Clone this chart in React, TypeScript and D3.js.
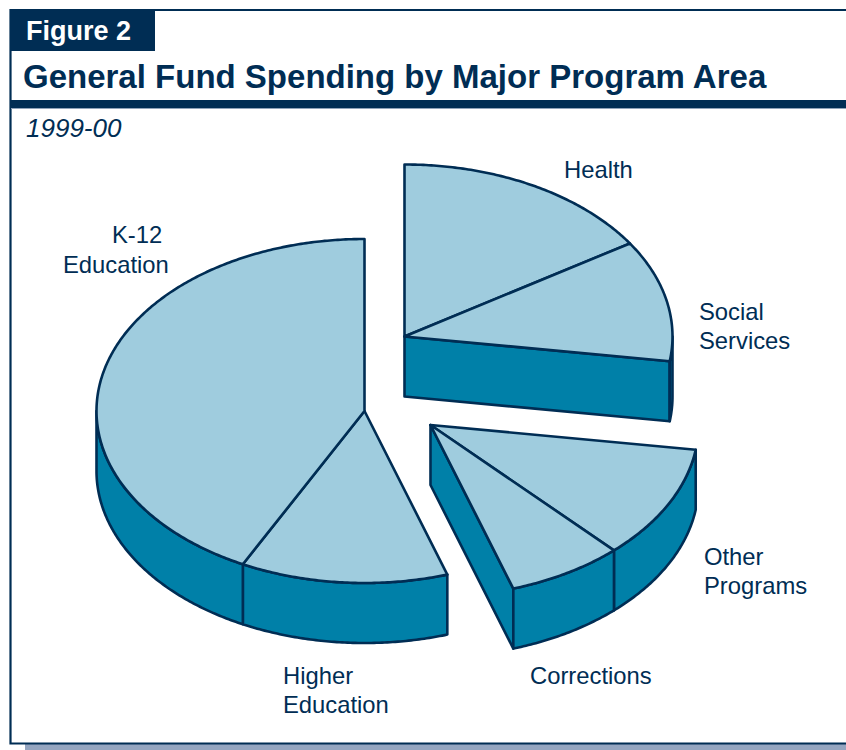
import React from "react";
import * as d3 from "d3";

const categories = ["Health", "Social Services", "Other Programs", "Corrections", "Higher Education", "K-12 Education"];
const shares = [15.9, 11.4, 10.7, 7.0, 12.5, 42.5];
const figureLabel = "Figure 2";
const titleText = "General Fund Spending by Major Program Area";
const subtitleText = "1999-00";

const NAVY = "#002D54";
const TOP = "#9FCCDE";
const SIDE = "#0080A8";
const RX = 268, RY = 172, DEPTH = 60;

// Each slice is pulled out with its neighbours: three separated groups
const centers = [[404.5, 336.5], [404.5, 336.5], [430.5, 425], [430.5, 425], [364.5, 411], [364.5, 411]];
// Walls of the cut faces that can be seen, by slice index and edge
const cutWalls: { index: number; edge: "start" | "end" }[] = [
  { index: 1, edge: "end" },
  { index: 3, edge: "end" },
];
const labels = [
  { lines: ["Health"], x: 564, y: 178 },
  { lines: ["Social", "Services"], x: 699, y: 320 },
  { lines: ["Other", "Programs"], x: 704, y: 565 },
  { lines: ["Corrections"], x: 530, y: 684 },
  { lines: ["Higher", "Education"], x: 283, y: 684 },
  { lines: ["K-12"], x: 112, y: 243 },
  { lines: ["Education"], x: 63, y: 273 },
];

const arcs = d3.pie<number>().sort(null).value((d) => d)(shares);
const ellipse = (a: number, c: number[], dy = 0): [number, number] => [
  c[0] + RX * Math.sin(a),
  c[1] - RY * Math.cos(a) + dy,
];
const line = d3.line();
const samples = (a0: number, a1: number) => {
  const n = Math.max(2, Math.ceil(Math.abs(a1 - a0) / 0.01));
  return d3.range(n + 1).map((i) => a0 + ((a1 - a0) * i) / n);
};

const topPath = (i: number) => {
  const a = arcs[i], c = centers[i];
  return line([c as [number, number], ...samples(a.startAngle, a.endAngle).map((t) => ellipse(t, c))]) + "Z";
};
const rimPath = (i: number) => {
  const a = arcs[i], c = centers[i];
  const lo = Math.max(a.startAngle, Math.PI / 2);
  const hi = Math.min(a.endAngle, (3 * Math.PI) / 2);
  if (hi <= lo) return null;
  const t = samples(lo, hi);
  return line([...t.map((v) => ellipse(v, c)), ...t.slice().reverse().map((v) => ellipse(v, c, DEPTH))]) + "Z";
};
const cutPath = (i: number, edge: "start" | "end") => {
  const c = centers[i] as [number, number];
  const ang = edge === "start" ? arcs[i].startAngle : arcs[i].endAngle;
  const p = ellipse(ang, c);
  return line([c, p, [p[0], p[1] + DEPTH], [c[0], c[1] + DEPTH]]) + "Z";
};

export default function App() {
  const strokeProps = { stroke: NAVY, strokeWidth: 2.6, strokeLinejoin: "round" as const };
  const font = "'Liberation Sans', Arial, sans-serif";
  return (
    <svg width={846} height={750} style={{ position: "absolute", left: 0, top: 0, display: "block" }} fontFamily={font}>
      <rect width={846} height={750} fill="#fff" />
      <rect x={25} y={744} width={821} height={6} fill="#94A5C0" />
      <path d="M846,10H10.5V743.5H846" fill="none" stroke={NAVY} strokeWidth={2.2} />
      <rect x={10} y={9} width={145} height={42} fill={NAVY} />
      <rect x={11} y={100} width={835} height={8} fill={NAVY} />
      <rect x={11} y={108} width={835} height={1} fill="#8FA3BA" />
      <text x={26} y={40} fill="#fff" fontSize={27} fontWeight="bold">{figureLabel}</text>
      <text x={23} y={88} fill={NAVY} fontSize={33} fontWeight="bold">{titleText}</text>
      <text x={26} y={137} fill={NAVY} fontSize={26} fontStyle="italic">{subtitleText}</text>

      {cutWalls.map((w) => (
        <path key={w.index} d={cutPath(w.index, w.edge)} fill={SIDE} {...strokeProps} />
      ))}
      {arcs.map((_, i) => {
        const d = rimPath(i);
        return d ? <path key={categories[i]} d={d} fill={SIDE} {...strokeProps} /> : null;
      })}
      {arcs.map((_, i) => (
        <path key={categories[i]} d={topPath(i)} fill={TOP} {...strokeProps} />
      ))}

      {labels.map((l) =>
        l.lines.map((t, j) => (
          <text key={t + l.x} x={l.x} y={l.y + j * 29} fill={NAVY} fontSize={23.8}>{t}</text>
        ))
      )}
    </svg>
  );
}
